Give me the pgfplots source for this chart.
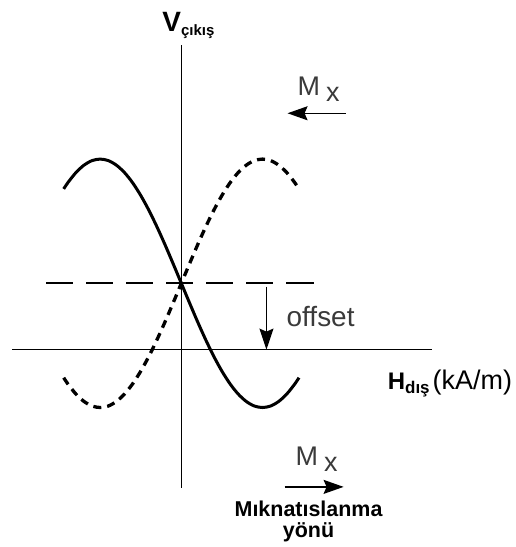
\documentclass[border=0pt]{standalone}
\usepackage{pgfplots}
\pgfplotsset{compat=1.18}
\usepackage{fontspec}
\setmainfont{Liberation Sans}
\usetikzlibrary{arrows.meta}
\definecolor{labelgray}{HTML}{3A3A3A}

\begin{document}
\begin{tikzpicture}
\begin{axis}[
  x=81bp, y=124bp,
  xmin=-2.086, xmax=3.086,
  ymin=-1.113, ymax=2.452,
  axis lines=middle,
  axis line style={-, line width=1.2bp, black},
  xtick=\empty, ytick=\empty,
  clip=false,
]
% overall drawing area
\path (axis cs:-2.235,-1.589) rectangle (axis cs:4.123,2.815);

% output offset level
\addplot[black, line width=2bp, dash pattern=on 27bp off 13bp]
  coordinates {(-1.667,0.534) (1.679,0.534)};

% output for magnetisation along -x (solid)
\addplot[black, line width=3bp, smooth] coordinates {
(-1.45,1.294) (-1.4,1.343) (-1.3,1.425) (-1.2,1.485) (-1.1,1.522)
(-1.0,1.534) (-0.9,1.522) (-0.8,1.485) (-0.7,1.425) (-0.6,1.343)
(-0.5,1.241) (-0.4,1.122) (-0.3,0.988) (-0.2,0.843) (-0.1,0.690)
(0,0.534) (0.1,0.378) (0.2,0.225) (0.3,0.080) (0.4,-0.054)
(0.5,-0.173) (0.6,-0.275) (0.7,-0.357) (0.8,-0.417) (0.9,-0.454)
(1.0,-0.466) (1.1,-0.454) (1.2,-0.417) (1.3,-0.357) (1.4,-0.275)
(1.45,-0.226)};

% output for magnetisation along +x (dotted)
\addplot[black, line width=3.3bp, smooth, dash pattern=on 8bp off 6bp] coordinates {
(-1.45,-0.226) (-1.4,-0.275) (-1.3,-0.357) (-1.2,-0.417) (-1.1,-0.454)
(-1.0,-0.466) (-0.9,-0.454) (-0.8,-0.417) (-0.7,-0.357) (-0.6,-0.275)
(-0.5,-0.173) (-0.4,-0.054) (-0.3,0.080) (-0.2,0.225) (-0.1,0.378)
(0,0.534) (0.1,0.690) (0.2,0.843) (0.3,0.988) (0.4,1.122)
(0.5,1.241) (0.6,1.343) (0.7,1.425) (0.8,1.485) (0.9,1.522)
(1.0,1.534) (1.1,1.522) (1.2,1.485) (1.3,1.425) (1.4,1.343)
(1.45,1.294)};

% offset arrow
\draw[line width=1.3bp, -{Stealth[length=21bp,width=14bp,inset=3bp]}]
  (axis cs:1.049,0.508) -- (axis cs:1.049,0);
\node[anchor=base west, inner sep=0pt, text=labelgray,
      font=\fontsize{28}{32}\selectfont] at (axis cs:1.296,0.185) {offset};

% magnetisation direction markers
\draw[line width=1.3bp, -{Stealth[length=20bp,width=14bp,inset=3bp]}]
  (axis cs:2.025,1.903) -- (axis cs:1.309,1.903);
\node[anchor=base west, inner sep=0pt, text=labelgray,
      font=\fontsize{27}{30}\selectfont] at (axis cs:1.432,2.048)
  {M\hspace{6bp}\raisebox{-6bp}{x}};

\draw[line width=1.3bp, -{Stealth[length=20bp,width=14bp,inset=3bp]}]
  (axis cs:1.272,-1.105) -- (axis cs:2.0,-1.105);
\node[anchor=base west, inner sep=0pt, text=labelgray,
      font=\fontsize{27}{30}\selectfont] at (axis cs:1.407,-0.935)
  {M\hspace{6bp}\raisebox{-6bp}{x}};

\node[anchor=base, inner sep=0pt, font=\bfseries\fontsize{21.5}{24}\selectfont]
  at (axis cs:1.568,-1.347) {Mıknatıslanma};
\node[anchor=base, inner sep=0pt, font=\bfseries\fontsize{21.5}{24}\selectfont]
  at (axis cs:1.568,-1.515) {yönü};

% axis titles
\node[anchor=base west, inner sep=0pt] at (axis cs:-0.235,2.565)
  {\bfseries\fontsize{28}{30}\selectfont V\raisebox{-4bp}{\fontsize{15}{17}\selectfont çıkış}};
\node[anchor=base west, inner sep=0pt] at (axis cs:2.543,-0.323)
  {{\bfseries\fontsize{24}{26}\selectfont H\raisebox{-4bp}{\fontsize{17}{18}\selectfont dış}}\hspace{3bp}{\fontsize{27}{30}\selectfont (kA/m)}};
\end{axis}
\end{tikzpicture}
\end{document}
